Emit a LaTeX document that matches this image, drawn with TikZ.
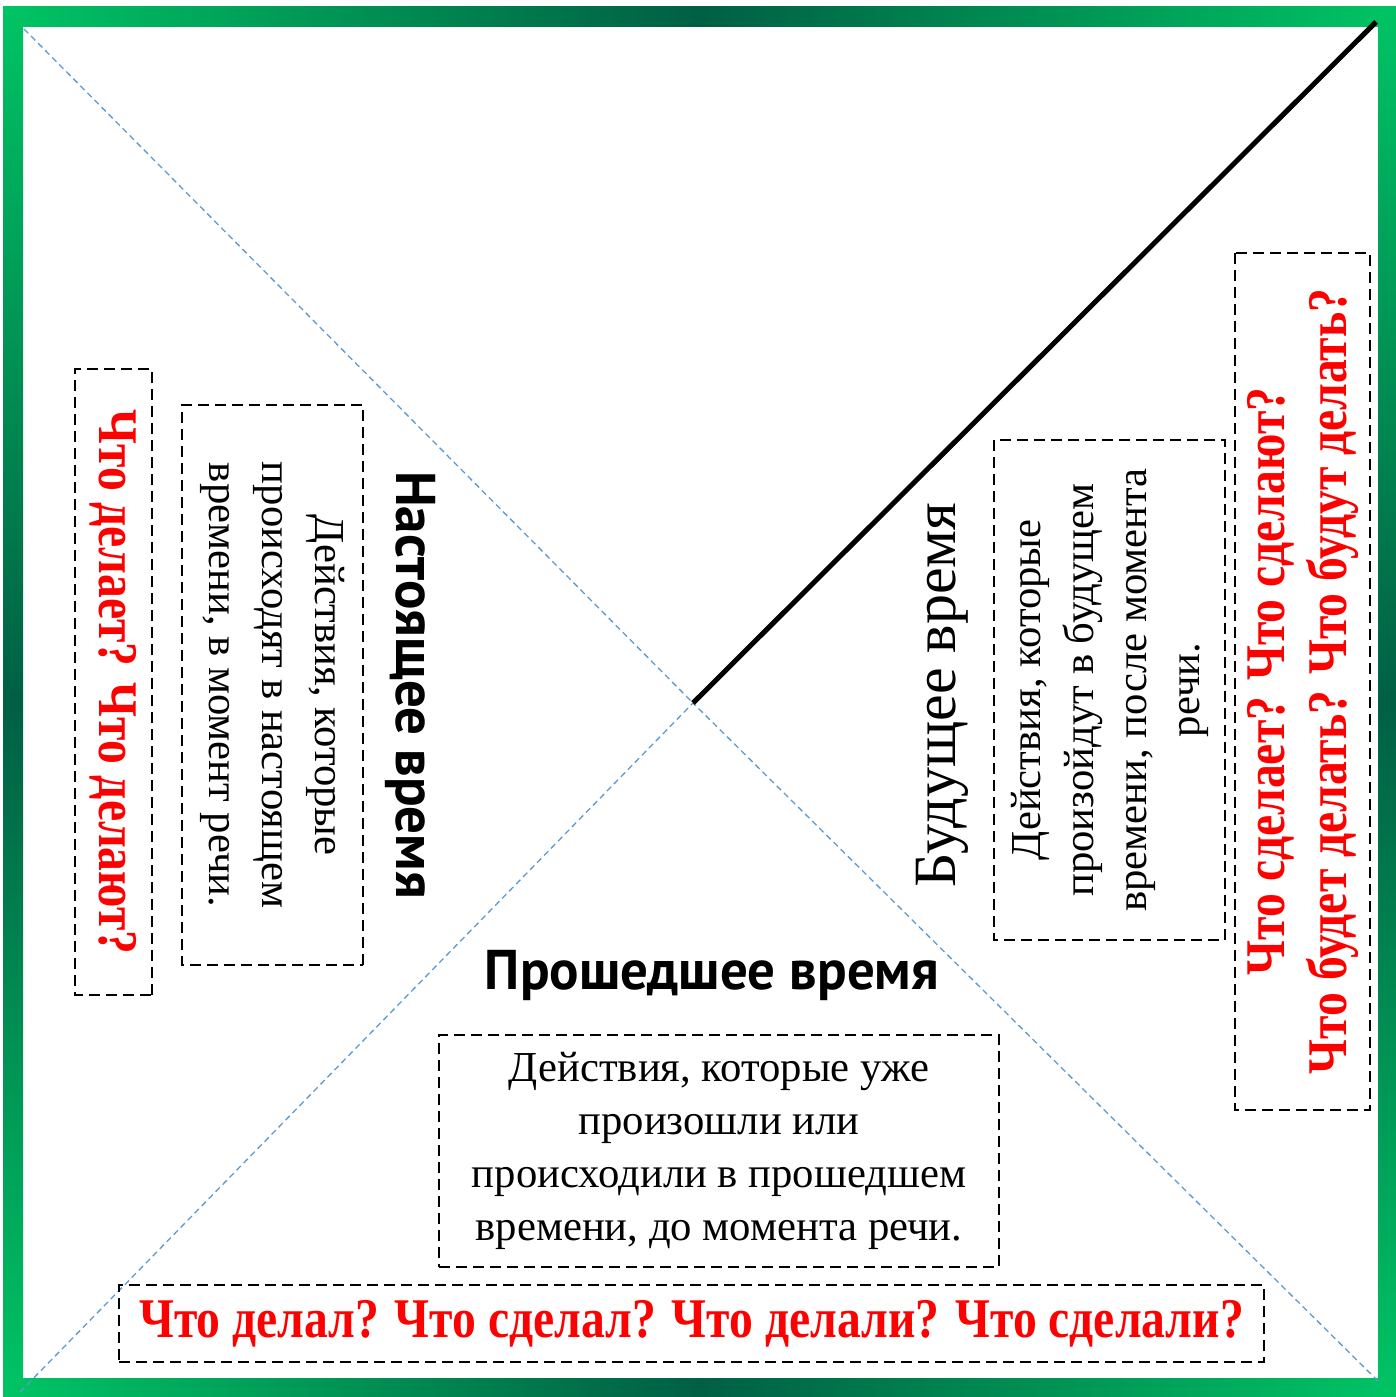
\documentclass[tikz,border=0pt]{standalone}
\usepackage{fontspec}
\setmainfont{Liberation Serif}
\newfontfamily\headfont[FakeStretch=0.98]{PT Sans}
\newfontfamily\redfont[FakeStretch=0.85]{Liberation Serif}
\definecolor{frbright}{RGB}{0,196,100}
\definecolor{frdark}{RGB}{0,95,68}
\definecolor{diagblue}{RGB}{91,155,213}
\definecolor{qred}{RGB}{255,0,0}
\tikzset{
  dashbox/.style={draw=black, line width=2pt, dash pattern=on 11pt off 6pt, inner sep=0pt, align=center},
  desctext/.style={font=\fontsize{42.7}{53}\selectfont},
  redtext/.style={text=qred, font=\redfont\bfseries\fontsize{56}{62}\selectfont},
  headtext/.style={inner sep=0pt, font=\headfont\bfseries\fontsize{56}{60}\selectfont},
  diag/.style={draw=diagblue, line width=1.3pt, dash pattern=on 6pt off 4pt},
}
\begin{document}
\begin{tikzpicture}[x=1pt,y=-1pt]
\useasboundingbox (0,0) rectangle (1396,1397);
\fill[white] (0,0) rectangle (1396,1397);
% frame
\shade[left color=frbright, right color=frbright, middle color=frdark] (3,7) rectangle (1396,27);
\shade[left color=frbright, right color=frbright, middle color=frdark] (3,1378) rectangle (1396,1397);
\shade[top color=frbright, bottom color=frbright, middle color=frdark] (3,7) rectangle (23,1397);
\shade[top color=frbright, bottom color=frbright, middle color=frdark] (1378,7) rectangle (1396,1397);
% diagonals
\coordinate (C) at (693,703);
\coordinate (TL) at (24,29);
\coordinate (BL) at (20,1392);
\coordinate (BR) at (1378,1381);
\coordinate (TR) at (1376,22);
\draw[diag] (TL) -- (C);
\draw[diag] (BL) -- (C);
\draw[diag] (BR) -- (C);
\draw[line width=5pt, black] (C) -- (TR);
% present
\node[dashbox, redtext, rotate=-90, minimum width=626pt, minimum height=77pt] (presq) at (113.5,682) {Что делает? Что делают?};
\node[dashbox, desctext, rotate=-90, minimum width=560pt, minimum height=181pt] (presd) at (272.5,685) {Действия, которые\\происходят в настоящем\\времени, в момент речи.};
\node[headtext, rotate=-90] (presh) at (410,685) {Настоящее время};
% future
\node[inner sep=0pt, rotate=90, font=\fontsize{60}{64}\selectfont] (futh) at (942,695) {Будущее время};
\node[dashbox, desctext, rotate=90, minimum width=500pt, minimum height=231pt] (futd) at (1109.5,690) {Действия, которые\\произойдут в будущем\\времени, после момента\\речи.};
\node[dashbox, redtext, rotate=90, minimum width=857pt, minimum height=135pt] (futq) at (1302.5,681.5) {Что сделает? Что сделают?\\Что будет делать? Что будут делать?};
% past
\node[headtext] (pasth) at (712,975) {Прошедшее время};
\node[dashbox, desctext, minimum width=560pt, minimum height=232pt] (pastd) at (719,1151) {Действия, которые уже\\произошли или\\происходили в прошедшем\\времени, до момента речи.};
\node[dashbox, redtext, minimum width=1145pt, minimum height=77pt] (pastq) at (691.5,1323.5) {Что делал? Что сделал? Что делали? Что сделали?};
\end{tikzpicture}
\end{document}
